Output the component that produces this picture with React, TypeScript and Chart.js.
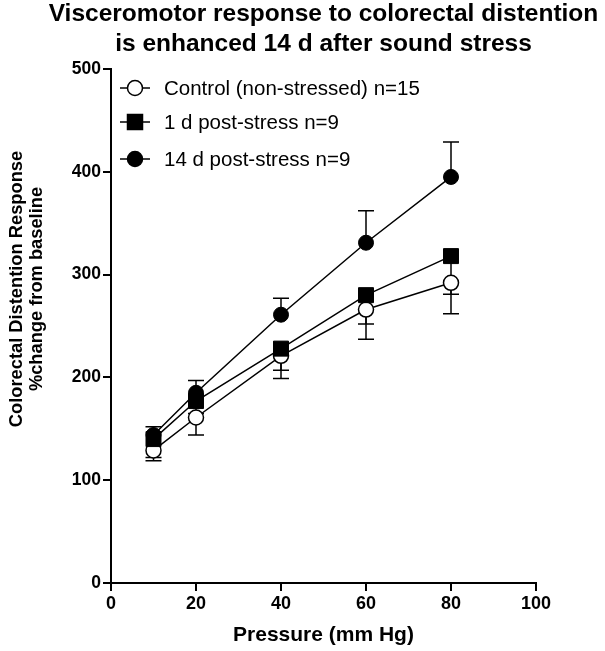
import React, { useEffect, useRef } from "react";
import { Chart, registerables } from "chart.js";

Chart.register(...registerables);

const pressures = [10, 20, 40, 60, 80];
const controlMean = [129, 161, 221, 266, 292];
const controlSem = [10, 17, 22, 29, 30];
const oneDayMean = [140, 177, 228, 280, 318];
const oneDaySem = [18, 12, 21, 28, 37];
const fourteenDayMean = [144, 185, 261, 331, 395];
const fourteenDaySem = [8, 12, 16, 31, 34];

const seriesLabels = [
  "Control (non-stressed) n=15",
  "1 d post-stress n=9",
  "14 d post-stress n=9",
];
const titleLines = [
  "Visceromotor response to colorectal distention",
  "is enhanced 14 d after sound stress",
];
const yTitleLines = ["Colorectal Distention Response", "%change from baseline"];
const xTitle = "Pressure (mm Hg)";

const FONT = "'Liberation Sans', Arial, sans-serif";

function drawMarker(ctx: CanvasRenderingContext2D, style: string, filled: boolean, x: number, y: number) {
  ctx.save();
  ctx.lineWidth = 1.5;
  ctx.strokeStyle = "#000";
  ctx.fillStyle = filled ? "#000" : "#fff";
  ctx.beginPath();
  if (style === "rect") {
    ctx.rect(x - 7.5, y - 7.5, 15, 15);
  } else {
    ctx.arc(x, y, 7.5, 0, Math.PI * 2);
  }
  ctx.fill();
  ctx.stroke();
  ctx.restore();
}

const errorBarPlugin = {
  id: "errorBars",
  beforeDatasetsDraw(chart: any) {
    const ctx = chart.ctx;
    const xs = chart.scales.x;
    const ys = chart.scales.y;
    ctx.save();
    ctx.strokeStyle = "#000";
    ctx.lineWidth = 1.5;
    chart.data.datasets.forEach((ds: any) => {
      ds.data.forEach((p: any, i: number) => {
        const sem = ds.sem[i];
        const end = ds.errDir === "up" ? p.y + sem : p.y - sem;
        const px = xs.getPixelForValue(p.x);
        const py = ys.getPixelForValue(p.y);
        const pe = ys.getPixelForValue(end);
        ctx.beginPath();
        ctx.moveTo(px, py);
        ctx.lineTo(px, pe);
        ctx.moveTo(px - 8, pe);
        ctx.lineTo(px + 8, pe);
        ctx.stroke();
      });
    });
    ctx.restore();
  },
};

const textPlugin = {
  id: "texts",
  afterDraw(chart: any) {
    const ctx = chart.ctx;
    const area = chart.chartArea;
    const cx = (area.left + area.right) / 2;
    ctx.save();
    ctx.fillStyle = "#000";
    ctx.textAlign = "center";
    ctx.textBaseline = "alphabetic";
    ctx.font = `bold 24.5px ${FONT}`;
    ctx.fillText(titleLines[0], cx, 21);
    ctx.fillText(titleLines[1], cx, 51);

    ctx.font = `bold 21px ${FONT}`;
    ctx.fillText(xTitle, cx, 641);

    ctx.save();
    ctx.translate(0, 289);
    ctx.rotate(-Math.PI / 2);
    ctx.font = `bold 18.3px ${FONT}`;
    ctx.fillText(yTitleLines[0], 0, 22);
    ctx.fillText(yTitleLines[1], 0, 42);
    ctx.restore();

    // legend
    const rows = [88, 122, 159];
    const styles = [
      { s: "circle", f: false },
      { s: "rect", f: true },
      { s: "circle", f: true },
    ];
    ctx.font = `20.5px ${FONT}`;
    ctx.textAlign = "left";
    ctx.textBaseline = "middle";
    rows.forEach((ry, i) => {
      ctx.beginPath();
      ctx.strokeStyle = "#000";
      ctx.lineWidth = 1.5;
      ctx.moveTo(120, ry);
      ctx.lineTo(150, ry);
      ctx.stroke();
      drawMarker(ctx, styles[i].s, styles[i].f, 135, ry);
      ctx.fillStyle = "#000";
      ctx.fillText(seriesLabels[i], 164, ry + 1);
    });
    ctx.restore();
  },
};

export default function App() {
  const ref = useRef<HTMLCanvasElement>(null);
  useEffect(() => {
    document.body.style.margin = "0";
    const toPts = (m: number[]) => pressures.map((x, i) => ({ x, y: m[i] }));
    const chart = new Chart(ref.current!, {
      type: "line",
      data: {
        datasets: [
          {
            label: seriesLabels[0],
            data: toPts(controlMean),
            sem: controlSem,
            errDir: "down",
            borderColor: "#000",
            borderWidth: 1.5,
            pointStyle: "circle",
            pointRadius: 7.5,
            pointBorderWidth: 1.5,
            pointBackgroundColor: "#fff",
            pointBorderColor: "#000",
            order: 1,
          } as any,
          {
            label: seriesLabels[1],
            data: toPts(oneDayMean),
            sem: oneDaySem,
            errDir: "down",
            borderColor: "#000",
            borderWidth: 1.5,
            pointStyle: "rect",
            pointRadius: 10.6,
            pointBorderWidth: 1,
            pointBackgroundColor: "#000",
            pointBorderColor: "#000",
            order: 0,
          } as any,
          {
            label: seriesLabels[2],
            data: toPts(fourteenDayMean),
            sem: fourteenDaySem,
            errDir: "up",
            borderColor: "#000",
            borderWidth: 1.5,
            pointStyle: "circle",
            pointRadius: 7.5,
            pointBorderWidth: 1,
            pointBackgroundColor: "#000",
            pointBorderColor: "#000",
            order: 2,
          } as any,
        ],
      },
      options: {
        animation: false,
        responsive: false,
        layout: { padding: { top: 69, right: 69, left: 0, bottom: 0 } },
        plugins: {
          legend: { display: false },
          title: { display: false },
          tooltip: { enabled: false },
        },
        scales: {
          x: {
            type: "linear",
            min: 0,
            max: 100,
            ticks: {
              stepSize: 20,
              color: "#000",
              padding: 2,
              maxRotation: 0,
              font: { family: FONT, size: 18, weight: "bold" },
            },
            grid: { drawOnChartArea: false, drawTicks: true, tickLength: 8, color: "#000", lineWidth: 2 },
            border: { display: true, color: "#000", width: 2 },
            afterFit: (s: any) => {
              s.height = 68;
            },
          },
          y: {
            type: "linear",
            min: 0,
            max: 500,
            ticks: {
              stepSize: 100,
              color: "#000",
              padding: 2,
              font: { family: FONT, size: 17.5, weight: "bold" },
            },
            grid: { drawOnChartArea: false, drawTicks: true, tickLength: 8, color: "#000", lineWidth: 2 },
            border: { display: true, color: "#000", width: 2 },
            afterFit: (s: any) => {
              s.width = 111;
            },
          },
        },
      } as any,
      plugins: [errorBarPlugin, textPlugin],
    });
    return () => chart.destroy();
  }, []);
  return <canvas ref={ref} width={605} height={651} style={{ display: "block" }} />;
}
